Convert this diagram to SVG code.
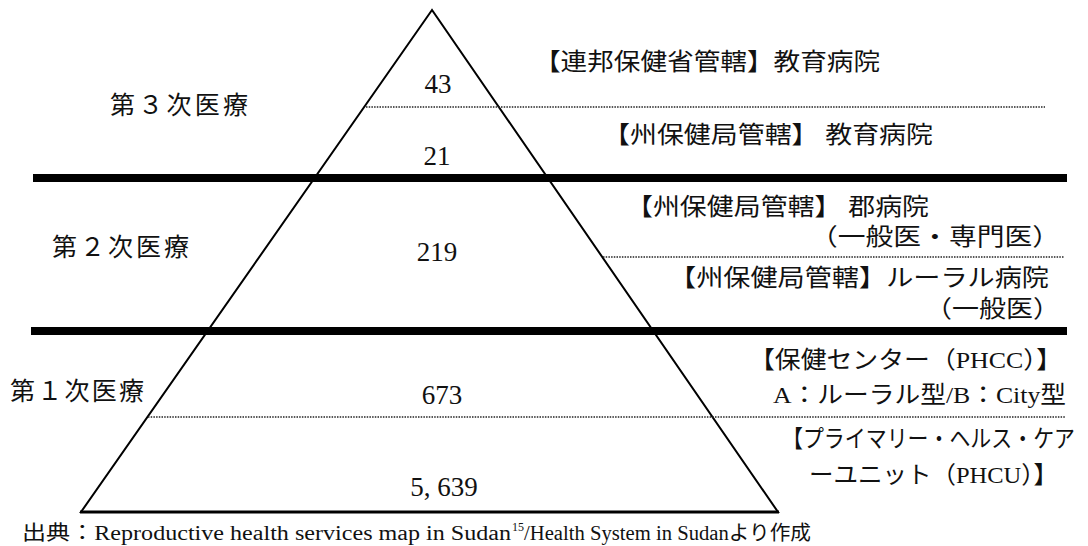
<svg xmlns="http://www.w3.org/2000/svg" width="1088" height="546" viewBox="0 0 1088 546">
<style>
text{font-family:"Liberation Serif","Noto Sans CJK JP",serif;fill:#111}
.tier{font-size:25px}
.num{font-size:27px;text-anchor:middle}
.lab{font-size:24px}
.src{font-size:20px}
.thick{stroke:#000;stroke-width:8}
.dot{stroke:#222;stroke-width:1.3;stroke-dasharray:1.5 1.2}
</style>
<rect width="1088" height="546" fill="#fff"/>
<g id="pyramid">
<polygon points="432,10 81,512 778,512" fill="none" stroke="#000" stroke-width="2"/>
<line x1="80" y1="512" x2="779" y2="512" stroke="#000" stroke-width="2.8"/>
</g>
<g id="connectors">
<line class="thick" x1="33" y1="178" x2="1067" y2="178"/>
<line class="thick" x1="31" y1="331" x2="1067" y2="331"/>
<line class="dot" x1="366" y1="107" x2="1045" y2="107"/>
<line class="dot" x1="603" y1="257" x2="1064" y2="257"/>
<line class="dot" x1="148" y1="417" x2="1066" y2="417"/>
</g>
<g id="tier3"><text class="tier" x="110" y="114" textLength="138" lengthAdjust="spacing">第３次医療</text></g>
<g id="tier2"><text class="tier" x="52" y="256" textLength="137" lengthAdjust="spacing">第２次医療</text></g>
<g id="tier1"><text class="tier" x="10" y="400" textLength="134" lengthAdjust="spacing">第１次医療</text></g>
<g id="n43"><text class="num" x="438" y="93">43</text></g>
<g id="n21"><text class="num" x="437" y="165">21</text></g>
<g id="n219"><text class="num" x="437" y="261">219</text></g>
<g id="n673"><text class="num" x="442" y="404">673</text></g>
<g id="n5639"><text class="num" x="444" y="496">5, 639</text></g>
<g id="l1"><text class="lab" x="534" y="70" textLength="346" lengthAdjust="spacingAndGlyphs">【連邦保健省管轄】教育病院</text></g>
<g id="l2"><text class="lab" x="603" y="143" textLength="330" lengthAdjust="spacingAndGlyphs">【州保健局管轄】 教育病院</text></g>
<g id="l3"><text class="lab" x="626" y="215" textLength="303" lengthAdjust="spacingAndGlyphs">【州保健局管轄】 郡病院</text>
<text class="lab" x="810" y="245" textLength="250" lengthAdjust="spacingAndGlyphs">（一般医・専門医）</text></g>
<g id="l4"><text class="lab" x="669" y="286" textLength="380" lengthAdjust="spacingAndGlyphs">【州保健局管轄】ルーラル病院</text>
<text class="lab" x="925" y="317" textLength="135" lengthAdjust="spacingAndGlyphs">（一般医）</text></g>
<g id="l5"><text class="lab" x="749" y="368" textLength="313" lengthAdjust="spacingAndGlyphs">【保健センター（PHCC）】</text>
<text class="lab" x="773" y="403" textLength="293" lengthAdjust="spacingAndGlyphs">A：ルーラル型/B：City型</text></g>
<g id="l6"><text class="lab" x="782" y="447" textLength="293" lengthAdjust="spacingAndGlyphs">【プライマリー・ヘルス・ケア</text>
<text class="lab" x="809" y="483" textLength="249" lengthAdjust="spacingAndGlyphs">ーユニット（PHCU）】</text></g>
<g id="source">
<text class="src" x="22" y="540" textLength="489" lengthAdjust="spacingAndGlyphs">出典：Reproductive health services map in Sudan</text>
<text x="512" y="531" font-size="12">15</text>
<text class="src" x="524" y="540" textLength="287" lengthAdjust="spacingAndGlyphs">/Health System in Sudanより作成</text>
</g>
</svg>
